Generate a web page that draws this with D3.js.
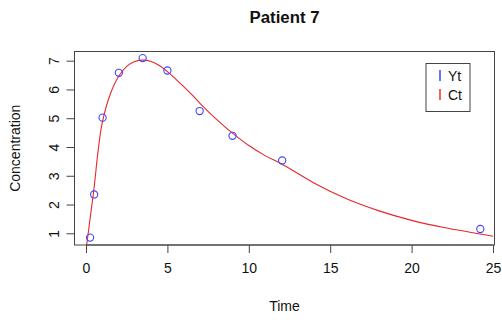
<!DOCTYPE html>
<html><head><meta charset="utf-8">
<script src="https://cdn.jsdelivr.net/npm/d3@7"></script>
<style>body{margin:0;background:#fff}svg{display:block}text{font-family:"Liberation Sans",Arial,sans-serif}</style>
</head><body><svg id="c" width="502" height="322"></svg>
<script>
const title = "Patient 7";
const xLabel = "Time";
const yLabel = "Concentration";
const obsTime = [0.25, 0.5, 1.02, 2.02, 3.48, 5.0, 6.98, 9.0, 12.05, 24.22];
const obsConc = [0.85, 2.35, 5.02, 6.58, 7.09, 6.66, 5.25, 4.39, 3.53, 1.15];
const fitTime = [0, 0.25, 0.5, 0.75, 1.0, 1.5, 2.0, 2.5, 3.0, 3.5, 4.0, 4.5, 5.0, 5.5, 6.0, 6.5, 7.0, 8.0, 9.0, 10, 11, 12, 14, 16, 18, 20, 22, 25];
const fitConc = [0.42, 1.5, 2.6, 3.9, 4.85, 5.85, 6.45, 6.8, 6.97, 7.02, 6.97, 6.83, 6.62, 6.37, 6.1, 5.82, 5.52, 4.97, 4.48, 4.05, 3.7, 3.42, 2.75, 2.2, 1.78, 1.45, 1.2, 0.9];
const xTicks = [0, 5, 10, 15, 20, 25];
const yTicks = [1, 2, 3, 4, 5, 6, 7];
const legendLabels = ["Yt", "Ct"];
const legendColors = ["#3333ff", "#ee2222"];

const svg = d3.select("#c");
const box = {l: 74.5, r: 494.5, t: 51.5, b: 245};
const x = d3.scaleLinear().domain([0, 25]).range([86, 493]);
const y = d3.scaleLinear().domain([1, 7]).range([233.3, 60.7]);
const axisCol = "#444";

svg.append("defs").append("clipPath").attr("id","clip")
  .append("rect").attr("x",box.l).attr("y",box.t).attr("width",box.r-box.l).attr("height",box.b-box.t);

// fitted curve
const line = d3.line().x((d,i)=>x(fitTime[i])).y(d=>y(d)).curve(d3.curveCatmullRom.alpha(0.5));
svg.append("path").attr("d", line(fitConc)).attr("fill","none")
  .attr("stroke","#e8262b").attr("stroke-width",1.1).attr("clip-path","url(#clip)");

// points
svg.selectAll("circle.pt").data(obsConc).join("circle")
  .attr("cx",(d,i)=>x(obsTime[i])).attr("cy",d=>y(d)).attr("r",3.6)
  .attr("fill","none").attr("stroke","#4444ff").attr("stroke-width",1.1);

// box
svg.append("rect").attr("x",box.l).attr("y",box.t).attr("width",box.r-box.l).attr("height",box.b-box.t)
  .attr("fill","none").attr("stroke",axisCol).attr("stroke-width",1);

// x axis
const xa = svg.append("g").attr("transform",`translate(0,${box.b})`)
  .call(d3.axisBottom(x).tickValues(xTicks).tickSize(8).tickPadding(10).tickFormat(d3.format("d")));
xa.select(".domain").attr("d",`M${x(0)},0H${x(25)}`).attr("stroke",axisCol);
xa.selectAll(".tick line").attr("stroke",axisCol);
xa.selectAll("text").attr("font-size",14).attr("fill","#111").attr("font-family","Liberation Sans");

// y axis
const ya = svg.append("g").attr("transform",`translate(${box.l},0)`)
  .call(d3.axisLeft(y).tickValues(yTicks).tickSize(8).tickFormat(d3.format("d")));
ya.select(".domain").attr("d",`M0,${y(1)}V${y(7)}`).attr("stroke",axisCol);
ya.selectAll(".tick line").attr("stroke",axisCol);
ya.selectAll("text").attr("font-size",14).attr("fill","#111").attr("font-family","Liberation Sans")
  .attr("x",0).attr("dy",0).attr("text-anchor","middle")
  .attr("transform","translate(-21,0) rotate(-90)").attr("dominant-baseline","central");

// labels
svg.append("text").attr("x",(box.l+box.r)/2).attr("y",23).attr("text-anchor","middle")
  .attr("font-size",16.8).attr("font-weight","bold").attr("fill","#111").text(title);
svg.append("text").attr("x",(box.l+box.r)/2).attr("y",311).attr("text-anchor","middle")
  .attr("font-size",14).attr("fill","#111").text(xLabel);
svg.append("text").attr("transform",`translate(20,${(box.t+box.b)/2}) rotate(-90)`).attr("text-anchor","middle")
  .attr("font-size",14).attr("fill","#111").text(yLabel);

// legend
const lg = svg.append("g");
lg.append("rect").attr("x",426).attr("y",63.5).attr("width",44).attr("height",48)
  .attr("fill","#fff").attr("stroke",axisCol);
legendLabels.forEach((lab,i)=>{
  const cy = 76 + i*19;
  lg.append("line").attr("x1",440).attr("x2",440).attr("y1",cy-6).attr("y2",cy+5)
    .attr("stroke",legendColors[i]).attr("stroke-width",1.4);
  lg.append("text").attr("x",448).attr("y",cy+5).attr("font-size",14).attr("fill","#111").text(lab);
});
</script></body></html>
